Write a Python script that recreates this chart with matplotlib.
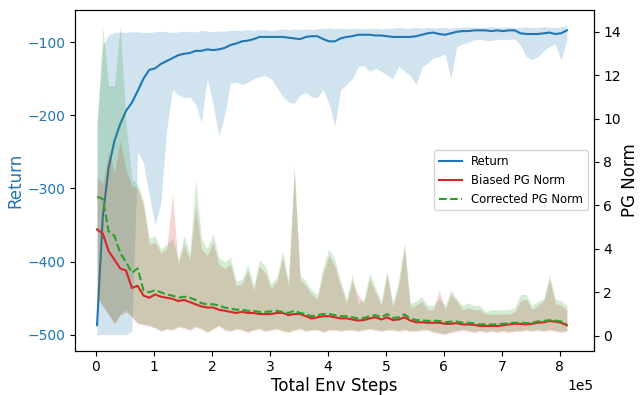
import numpy as np
import matplotlib
matplotlib.use("Agg")
import matplotlib.pyplot as plt

# env steps (one eval every 1e4 steps)
steps = 2000 + 10000 * np.arange(82)

# Return (mean and band)
ret_mean = [-487, -338, -272, -235, -212, -194, -183, -167, -150, -138,
            -136, -130, -126, -122, -118, -116, -115, -112, -112, -110,
            -111, -110, -108, -104, -102, -99, -98, -96, -93, -93,
            -93, -93, -93, -94, -95, -96, -93, -92, -92, -96,
            -99, -99, -95, -93, -92, -90, -90, -90, -91, -91,
            -92, -93, -93, -93, -93, -92, -90, -88, -87, -89,
            -90, -88, -86, -85, -85, -84, -84, -84, -85, -84,
            -85, -84, -84, -88, -89, -89, -89, -88, -87, -89,
            -88, -84]
ret_hi = [-215, -105, -90, -87, -86, -87, -86, -86, -87, -87,
          -86, -85, -86, -87, -86, -85, -86, -86, -84, -85,
          -86, -85, -85, -84, -84, -84, -83, -84, -83, -83,
          -84, -83, -82, -83, -82, -83, -82, -83, -82, -81,
          -81, -82, -81, -82, -81, -81, -82, -81, -81, -82,
          -81, -81, -80, -81, -81, -80, -81, -80, -81, -80,
          -80, -81, -80, -80, -79, -80, -80, -80, -79, -80,
          -80, -79, -80, -80, -79, -80, -80, -79, -80, -80,
          -79, -77]
ret_lo = [-500, -500, -500, -500, -500, -500, -495, -250, -265, -310,
          -350, -320, -220, -165, -172, -176, -175, -185, -210, -150,
          -185, -228, -200, -156, -155, -158, -155, -150, -147, -146,
          -150, -162, -174, -182, -184, -172, -169, -175, -176, -165,
          -185, -215, -165, -158, -150, -134, -132, -140, -136, -140,
          -145, -150, -133, -140, -146, -158, -135, -128, -122, -120,
          -116, -150, -106, -103, -100, -97, -96, -98, -98, -96,
          -97, -96, -96, -104, -120, -124, -120, -112, -106, -103,
          -125, -97]

# Biased PG norm
bias_mean = [4.9, 4.7, 3.9, 3.5, 3.1, 3.0, 2.2, 2.3, 1.85, 1.75,
             1.9, 1.8, 1.75, 1.7, 1.6, 1.65, 1.55, 1.45, 1.35, 1.3,
             1.3, 1.2, 1.15, 1.1, 1.05, 1.1, 1.05, 1.05, 1.0, 1.0,
             1.0, 1.05, 1.05, 0.95, 1.0, 1.0, 0.9, 0.8, 0.85, 0.9,
             0.9, 0.85, 0.8, 0.8, 0.75, 0.7, 0.72, 0.8, 0.85, 0.75,
             0.85, 0.72, 0.75, 0.85, 0.7, 0.62, 0.62, 0.6, 0.6, 0.6,
             0.55, 0.55, 0.58, 0.52, 0.52, 0.5, 0.45, 0.45, 0.45, 0.45,
             0.48, 0.52, 0.55, 0.55, 0.52, 0.55, 0.6, 0.62, 0.68, 0.65,
             0.6, 0.48]
bias_hi = [7.3, 7.0, 8.5, 7.5, 9.0, 7.6, 6.9, 6.8, 6.0, 4.2,
           4.3, 3.8, 4.0, 6.5, 3.3, 4.2, 3.5, 6.0, 4.0, 3.7,
           4.3, 3.3, 3.1, 3.3, 2.3, 2.4, 3.0, 2.1, 3.2, 2.9,
           2.2, 2.5, 3.6, 2.3, 7.5, 2.6, 2.3, 1.9, 1.7, 2.9,
           3.7, 3.2, 2.3, 1.5, 2.5, 1.9, 1.5, 2.6, 2.0, 1.4,
           2.8, 1.3, 2.3, 4.0, 1.3, 1.4, 1.6, 1.2, 1.2, 2.1,
           1.2, 1.9, 1.6, 1.2, 1.3, 1.2, 1.2, 1.0, 1.0, 1.0,
           1.0, 1.0, 1.1, 1.6, 1.7, 1.2, 1.4, 1.6, 2.6, 1.5,
           1.4, 1.2]
bias_lo = [1.75, 1.35, 0.95, 0.55, 0.95, 1.1, 0.85, 0.55, 0.5, 0.45,
           0.35, 0.2, 0.3, 0.25, 0.4, 0.35, 0.25, 0.4, 0.3, 0.15,
           0.3, 0.45, 0.25, 0.2, 0.3, 0.25, 0.15, 0.25, 0.3, 0.2,
           0.25, 0.3, 0.2, 0.15, 0.25, 0.3, 0.2, 0.25, 0.25, 0.15,
           0.25, 0.25, 0.2, 0.25, 0.25, 0.2, 0.25, 0.3, 0.25, 0.2,
           0.25, 0.25, 0.2, 0.25, 0.2, 0.2, 0.25, 0.25, 0.15, 0.1,
           0.06, 0.15, 0.2, 0.25, 0.2, 0.15, 0.2, 0.15, 0.2, 0.15,
           0.2, 0.15, 0.2, 0.2, 0.25, 0.2, 0.25, 0.2, 0.25, 0.2,
           0.15, 0.2]

# Corrected PG norm
corr_mean = [6.4, 6.3, 4.8, 4.6, 3.8, 3.4, 2.9, 3.1, 2.1, 2.0,
             2.1, 2.0, 1.9, 1.85, 1.75, 1.8, 1.75, 1.65, 1.5, 1.45,
             1.45, 1.4, 1.3, 1.25, 1.2, 1.2, 1.15, 1.15, 1.1, 1.1,
             1.12, 1.15, 1.1, 1.05, 1.15, 1.05, 1.0, 0.9, 0.95, 1.0,
             1.0, 0.95, 0.9, 0.9, 0.85, 0.8, 0.82, 0.9, 0.95, 0.85,
             1.0, 0.82, 0.85, 0.98, 0.8, 0.72, 0.72, 0.68, 0.7, 0.68,
             0.62, 0.65, 0.66, 0.6, 0.6, 0.57, 0.52, 0.53, 0.52, 0.53,
             0.55, 0.58, 0.6, 0.6, 0.58, 0.6, 0.66, 0.68, 0.72, 0.7,
             0.66, 0.52]
corr_hi = [9.8, 14.2, 11.5, 11.5, 14.3, 9.8, 7.2, 7.0, 6.2, 4.5,
           4.6, 4.0, 4.2, 4.5, 3.5, 4.6, 3.8, 7.2, 4.5, 4.0,
           4.7, 3.6, 3.4, 3.6, 2.5, 2.6, 3.3, 2.3, 3.5, 3.2,
           2.4, 2.7, 3.9, 2.5, 7.9, 2.8, 2.5, 2.1, 1.9, 3.2,
           4.0, 3.5, 2.5, 1.7, 2.8, 1.5, 1.7, 2.9, 2.2, 1.6,
           3.0, 1.5, 2.6, 4.3, 1.5, 1.6, 1.8, 1.4, 1.4, 1.7,
           1.4, 2.1, 1.7, 1.4, 1.5, 1.4, 1.4, 1.1, 1.2, 1.2,
           1.2, 1.2, 1.3, 1.9, 1.9, 1.4, 1.6, 1.7, 2.8, 1.7,
           1.6, 1.4]
corr_lo = [1.8, 1.4, 1.0, 0.6, 1.0, 1.2, 0.9, 0.6, 0.55, 0.5,
           0.4, 0.25, 0.35, 0.3, 0.45, 0.4, 0.3, 0.45, 0.35, 0.2,
           0.35, 0.5, 0.3, 0.25, 0.35, 0.3, 0.2, 0.3, 0.35, 0.25,
           0.3, 0.35, 0.25, 0.2, 0.3, 0.35, 0.25, 0.3, 0.3, 0.2,
           0.3, 0.3, 0.25, 0.3, 0.3, 0.25, 0.3, 0.35, 0.3, 0.25,
           0.3, 0.3, 0.25, 0.3, 0.25, 0.25, 0.3, 0.3, 0.2, 0.15,
           0.1, 0.2, 0.25, 0.3, 0.25, 0.2, 0.25, 0.2, 0.25, 0.2,
           0.25, 0.2, 0.25, 0.25, 0.3, 0.25, 0.3, 0.25, 0.3, 0.25,
           0.2, 0.25]


def main():
    fig, ax = plt.subplots(figsize=(6.41, 3.95), dpi=100)
    fig.subplots_adjust(left=0.117, right=0.926, top=0.975, bottom=0.112)

    # return on the left axis
    ax.fill_between(steps, ret_lo, ret_hi, color='tab:blue', alpha=0.2, linewidth=0)
    l1, = ax.plot(steps, ret_mean, color='tab:blue', label='Return')
    ax.set_ylabel('Return', color='tab:blue', fontsize=12, labelpad=2)
    ax.tick_params(axis='y', labelcolor='tab:blue')
    ax.set_xlabel('Total Env Steps', fontsize=12, labelpad=2)
    ax.ticklabel_format(style='sci', axis='x', scilimits=(0, 0))
    ax.set_xlim(-0.36e5, 8.58e5)
    ax.set_ylim(-522, -56)

    # PG norms on the right axis
    ax2 = ax.twinx()
    ax2.fill_between(steps, bias_lo, bias_hi, color='tab:red', alpha=0.2, linewidth=0)
    ax2.fill_between(steps, corr_lo, corr_hi, color='tab:green', alpha=0.2, linewidth=0)
    l2, = ax2.plot(steps, bias_mean, color='tab:red', label='Biased PG Norm')
    l3, = ax2.plot(steps, corr_mean, color='tab:green', linestyle='--', label='Corrected PG Norm')
    ax2.set_ylabel('PG Norm', fontsize=12, labelpad=0)
    ax2.set_ylim(-0.69, 15.0)

    ax2.legend([l1, l2, l3], [l.get_label() for l in (l1, l2, l3)],
               loc='center right', fontsize='small')

    fig.savefig('out.png', dpi=100)


if __name__ == '__main__':
    main()
